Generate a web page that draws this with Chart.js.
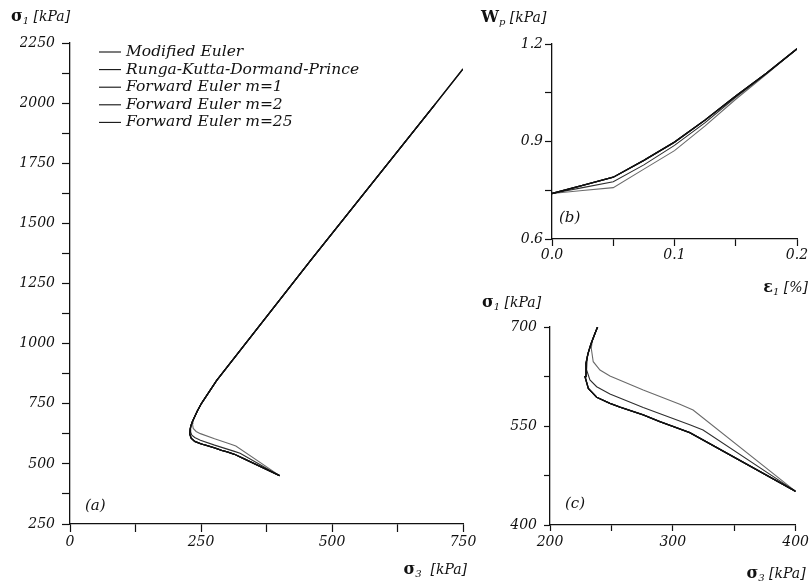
<!DOCTYPE html>
<html>
<head>
<meta charset="utf-8">
<script src="https://cdn.jsdelivr.net/npm/chart.js@4.4.1/dist/chart.umd.min.js"></script>
<style>
  html, body { margin: 0; padding: 0; background: #fff; }
  #wrap { position: relative; width: 812px; height: 585px; }
  #wrap canvas { position: absolute; left: 0; top: 0; }
</style>
</head>
<body>
<div id="wrap">
  <canvas id="chartA" width="812" height="585"></canvas>
  <canvas id="chartB" width="812" height="585"></canvas>
  <canvas id="chartC" width="812" height="585"></canvas>
</div>
<script>
// stress paths sigma3 / sigma1 [kPa] -- panel (a), panel (c) is a zoom of the same paths
const s3Exact = [400, 327.4, 313.8, 300, 289.4, 275.9, 257, 248.8, 238, 231.2, 228.5, 229.3, 231, 233.5, 237, 243, 251, 262, 280, 460, 697, 750];
const s1Exact = [451, 526, 539.9, 549.5, 556.5, 566.7, 578.5, 584.4, 593.5, 607, 624.7, 645, 660, 675, 692, 720, 752, 788, 847, 1348, 1996, 2142];
const s3Fe25 = [400, 327.4, 313.8, 300, 289.4, 275.9, 257, 248.8, 238, 231.2, 228.5, 229.3, 231, 233.5, 237, 243, 251, 262, 280, 460, 697];
const s1Fe25 = [451, 526, 539.9, 549.5, 556.5, 566.7, 578.5, 584.4, 593.5, 607, 624.7, 645, 660, 675, 692, 720, 752, 788, 847, 1348, 1996];
const s3Fe2 = [400, 324.6, 313.8, 275.9, 248.8, 238, 232.5, 229.8, 230.3, 232.5, 237, 243, 251, 262, 280, 460, 697];
const s1Fe2 = [451, 544, 552, 578, 598.5, 609.5, 619.7, 634.8, 655, 670, 692, 720, 752, 788, 847, 1348, 1996];
const s3Fe1 = [400, 316.5, 305.7, 275.9, 248.8, 240.7, 235.2, 233.6, 234.5, 237, 243, 251, 262, 280, 460, 697];
const s1Fe1 = [451, 574.2, 583, 604.5, 625.8, 634.8, 647.4, 667.7, 680, 692, 720, 752, 788, 847, 1348, 1996];

// plastic work Wp [kPa] against strain eps1 [%] -- panel (b)
const eps1 = [0, 0.025, 0.05, 0.075, 0.1, 0.125, 0.15, 0.175, 0.2];
const wpExact = [0.74, 0.765, 0.79, 0.842, 0.898, 0.966, 1.04, 1.11, 1.185];
const wpFe25 = [0.74, 0.765, 0.79, 0.842, 0.898, 0.966, 1.04, 1.11, 1.185];
const wpFe2 = [0.74, 0.758, 0.776, 0.828, 0.888, 0.958, 1.036, 1.109, 1.185];
const wpFe1 = [0.74, 0.749, 0.758, 0.815, 0.872, 0.948, 1.03, 1.107, 1.185];

const labels = ['Modified Euler', 'Runga-Kutta-Dormand-Prince', 'Forward Euler m=1', 'Forward Euler m=2', 'Forward Euler m=25'];

const FONT = 'DejaVu Serif';
const INK = '#111';
Chart.defaults.font.family = FONT;
Chart.defaults.font.style = 'italic';
Chart.defaults.font.size = 14;
Chart.defaults.color = INK;
Chart.defaults.animation = false;
Chart.defaults.plugins.legend.display = false;
Chart.defaults.plugins.tooltip.enabled = false;

function pts(xs, ys) {
  return xs.map((x, i) => ({ x: x, y: ys[i] }));
}

function series(label, data, color, width, order) {
  return {
    label: label,
    data: data,
    borderColor: color,
    backgroundColor: color,
    borderWidth: width,
    pointRadius: 0,
    tension: 0,
    fill: false,
    order: order
  };
}

function pathSets(xsets, ysets) {
  return [
    series(labels[0], pts(xsets[0], ysets[0]), INK, 1.3, 1),
    series(labels[1], pts(xsets[1], ysets[1]), INK, 1.3, 1),
    series(labels[2], pts(xsets[2], ysets[2]), '#6a6a6a', 1.1, 3),
    series(labels[3], pts(xsets[3], ysets[3]), '#2e2e2e', 1.1, 2),
    series(labels[4], pts(xsets[4], ysets[4]), INK, 1.3, 1)
  ];
}

// axis with ticks every `step`, a label only every `every`
function axis(min, max, step, every, digits, tickLen, pad, size, isX) {
  return {
    type: 'linear',
    min: min,
    max: max,
    border: { color: INK, width: 1.3 },
    grid: { drawOnChartArea: false, drawTicks: true, tickLength: tickLen, tickColor: INK, tickWidth: 1.2 },
    ticks: {
      stepSize: step,
      padding: pad,
      autoSkip: false,
      maxRotation: 0,
      color: INK,
      font: { family: FONT, style: 'italic', size: 14 },
      callback: function (v) {
        const k = (v - min) / every;
        return Math.abs(k - Math.round(k)) < 1e-6 ? Number(v).toFixed(digits) : '';
      }
    },
    afterFit: function (s) {
      if (isX) s.height = size; else s.width = size;
    }
  };
}

// axis names, panel tags and the legend, placed against the chart area
function label(sym, sub, rest) {
  return [
    { t: sym, font: 'bold 16px ' + FONT },
    { t: sub, font: 'italic 10px ' + FONT, dy: 3 },
    { t: rest, font: 'italic 14px ' + FONT }
  ];
}

const notes = {
  id: 'notes',
  afterDraw(chart, args, opts) {
    const ctx = chart.ctx;
    const ca = chart.chartArea;
    ctx.save();
    ctx.fillStyle = INK;
    ctx.textBaseline = 'alphabetic';
    (opts.items || []).forEach(function (item) {
      let x = ca[item.ax] + item.dx;
      const y = ca[item.ay] + item.dy;
      let w = 0;
      item.parts.forEach(function (p) { ctx.font = p.font; w += ctx.measureText(p.t).width; });
      if (item.align === 'right') x -= w;
      item.parts.forEach(function (p) {
        ctx.font = p.font;
        ctx.fillText(p.t, x, y + (p.dy || 0));
        x += ctx.measureText(p.t).width;
      });
    });
    const lg = opts.legend;
    if (lg) {
      ctx.strokeStyle = INK;
      ctx.lineWidth = 1.1;
      ctx.font = 'italic 15.5px ' + FONT;
      ctx.textBaseline = 'middle';
      chart.data.datasets.forEach(function (ds, i) {
        const x = ca.left + lg.dx;
        const y = ca.top + lg.dy + i * lg.step;
        ctx.beginPath();
        ctx.moveTo(x, y);
        ctx.lineTo(x + lg.line, y);
        ctx.stroke();
        ctx.fillText(ds.label, x + lg.line + 5, y);
      });
    }
    ctx.restore();
  }
};

function tag(text, dx, dy) {
  return { ax: 'left', ay: 'bottom', dx: dx, dy: dy, parts: [{ t: text, font: 'italic 15px ' + FONT }] };
}

// (a) full stress path
new Chart(document.getElementById('chartA'), {
  type: 'line',
  data: {
    datasets: pathSets([s3Exact, s3Exact, s3Fe1, s3Fe2, s3Fe25], [s1Exact, s1Exact, s1Fe1, s1Fe2, s1Fe25])
  },
  options: {
    responsive: false,
    layout: { padding: { left: 20, right: 349, top: 43, bottom: 31 } },
    scales: {
      x: axis(0, 750, 125, 250, 0, 8, 2, 30, true),
      y: axis(250, 2250, 125, 250, 0, 8, 7, 50, false)
    },
    plugins: {
      notes: {
        items: [
          { ax: 'left', ay: 'top', dx: -59, dy: -22, parts: label('σ', '1', ' [kPa]') },
          { ax: 'right', ay: 'bottom', dx: 4, dy: 50, align: 'right', parts: label('σ', '3', '  [kPa]') },
          tag('(a)', 15, -14)
        ],
        legend: { dx: 29, dy: 9, step: 17.6, line: 22 }
      }
    }
  },
  plugins: [notes]
});

// (b) plastic work
new Chart(document.getElementById('chartB'), {
  type: 'line',
  data: {
    datasets: pathSets([eps1, eps1, eps1, eps1, eps1], [wpExact, wpExact, wpFe1, wpFe2, wpFe25])
  },
  options: {
    responsive: false,
    layout: { padding: { left: 502, right: 15, top: 44, bottom: 316 } },
    scales: {
      x: axis(0, 0.2, 0.05, 0.1, 1, 7, 1, 30, true),
      y: axis(0.6, 1.2, 0.15, 0.3, 1, 7, 2, 50, false)
    },
    plugins: {
      notes: {
        items: [
          { ax: 'left', ay: 'top', dx: -71, dy: -22, parts: label('W', 'p', ' [kPa]') },
          { ax: 'right', ay: 'bottom', dx: 11, dy: 53, align: 'right', parts: label('ε', '1', ' [%]') },
          tag('(b)', 7, -17)
        ]
      }
    }
  },
  plugins: [notes]
});

// (c) zoom of the stress path near the start
new Chart(document.getElementById('chartC'), {
  type: 'line',
  data: {
    datasets: pathSets([s3Exact, s3Exact, s3Fe1, s3Fe2, s3Fe25], [s1Exact, s1Exact, s1Fe1, s1Fe2, s1Fe25])
  },
  options: {
    responsive: false,
    layout: { padding: { left: 500, right: 16, top: 327, bottom: 30 } },
    scales: {
      x: axis(200, 400, 50, 100, 0, 6, 3, 30, true),
      y: axis(400, 700, 75, 150, 0, 6, 7, 50, false)
    },
    plugins: {
      notes: {
        items: [
          { ax: 'left', ay: 'top', dx: -68, dy: -20, parts: label('σ', '1', ' [kPa]') },
          { ax: 'right', ay: 'bottom', dx: 10, dy: 53, align: 'right', parts: label('σ', '3', ' [kPa]') },
          tag('(c)', 15, -17)
        ]
      }
    }
  },
  plugins: [notes]
});
</script>
</body>
</html>
